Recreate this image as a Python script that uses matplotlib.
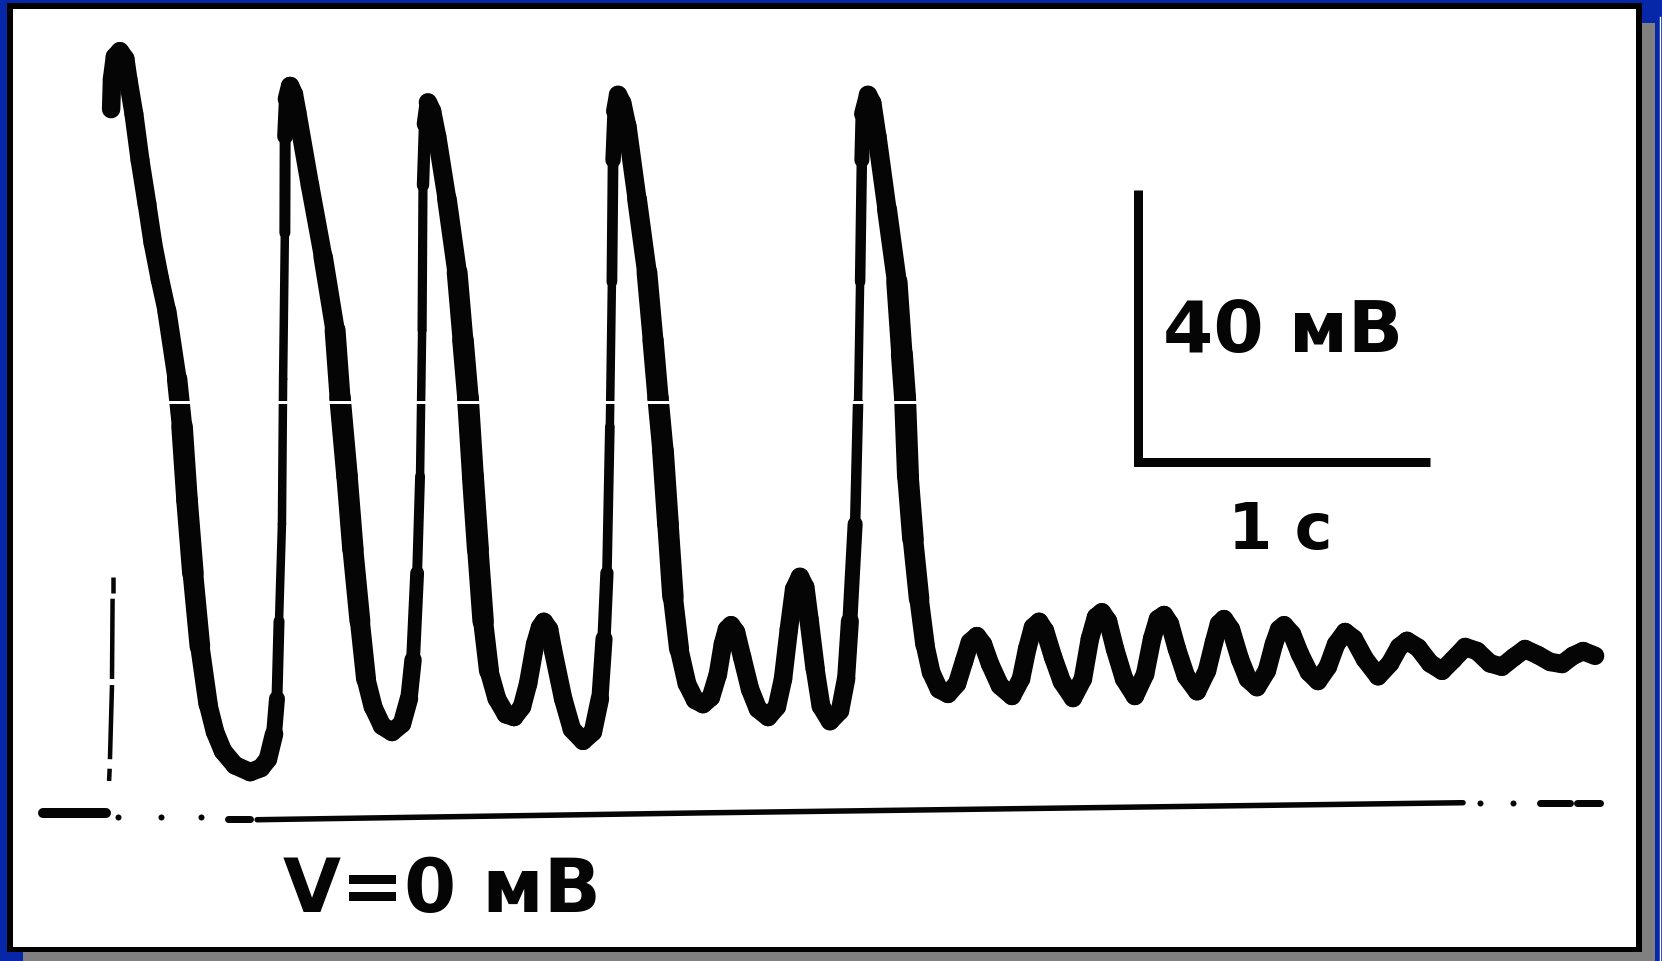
import numpy as np
import matplotlib.pyplot as plt
from matplotlib.collections import LineCollection
from matplotlib.patches import Rectangle

# recorded membrane potential: time in s (0 = stimulus mark), voltage in mV
time_s = [
    -0.003, 0.000, 0.010, 0.027, 0.045, 0.055, 0.075, 0.096, 0.120, 0.140,
    0.164, 0.188, 0.223, 0.240, 0.257, 0.277, 0.301, 0.329, 0.353, 0.380,
    0.421, 0.473, 0.510, 0.534, 0.555, 0.565, 0.572, 0.582, 0.586, 0.592,
    0.593, 0.599, 0.610, 0.623, 0.634, 0.678, 0.723, 0.764, 0.781, 0.805,
    0.825, 0.849, 0.870, 0.894, 0.925, 0.959, 0.993, 1.017, 1.031, 1.045,
    1.055, 1.062, 1.065, 1.072, 1.082, 1.096, 1.113, 1.147, 1.182, 1.202,
    1.219, 1.236, 1.253, 1.271, 1.291, 1.318, 1.349, 1.377, 1.404, 1.425,
    1.449, 1.466, 1.479, 1.497, 1.510, 1.545, 1.575, 1.613, 1.647, 1.671,
    1.685, 1.695, 1.705, 1.712, 1.716, 1.723, 1.733, 1.747, 1.764, 1.798,
    1.832, 1.853, 1.870, 1.887, 1.904, 1.921, 1.942, 1.969, 1.997, 2.024,
    2.051, 2.075, 2.092, 2.106, 2.120, 2.137, 2.158, 2.185, 2.212, 2.247,
    2.277, 2.298, 2.318, 2.336, 2.356, 2.373, 2.387, 2.408, 2.428, 2.459,
    2.493, 2.514, 2.527, 2.545, 2.555, 2.562, 2.568, 2.572, 2.589, 2.603,
    2.620, 2.654, 2.688, 2.705, 2.716, 2.726, 2.743, 2.764, 2.784, 2.805,
    2.832, 2.863, 2.894, 2.918, 2.938, 2.962, 2.983, 3.007, 3.041, 3.082,
    3.113, 3.134, 3.154, 3.175, 3.195, 3.223, 3.253, 3.291, 3.325, 3.349,
    3.370, 3.390, 3.411, 3.435, 3.466, 3.503, 3.538, 3.562, 3.582, 3.603,
    3.623, 3.647, 3.678, 3.716, 3.750, 3.774, 3.791, 3.808, 3.832, 3.863,
    3.890, 3.921, 3.955, 3.979, 3.997, 4.014, 4.041, 4.068, 4.099, 4.130,
    4.164, 4.192, 4.223, 4.253, 4.291, 4.336, 4.377, 4.408, 4.435, 4.473,
    4.514, 4.555, 4.592, 4.634, 4.675, 4.719, 4.760, 4.801, 4.839, 4.884,
    4.925, 4.966, 5.003, 5.038, 5.079,
]
volt_mv = [
    104.1, 108.5, 111.8, 112.6, 111.5, 108.5, 103.4, 96.6, 90.1, 84.4,
    79.1, 74.4, 64.4, 57.4, 46.6, 35.9, 25.1, 16.6, 12.5, 9.7,
    7.6, 6.6, 7.2, 8.5, 12.2, 17.4, 28.8, 43.1, 64.4, 85.9,
    100.1, 105.6, 107.5, 106.3, 103.7, 92.9, 82.4, 71.6, 61.6, 50.1,
    39.4, 28.8, 20.3, 16.2, 13.4, 12.5, 13.7, 17.4, 23.1, 35.9,
    50.1, 71.6, 92.9, 101.9, 105.1, 103.8, 100.1, 90.9, 80.1, 70.1,
    61.6, 50.1, 39.4, 28.8, 21.5, 17.4, 15.1, 14.7, 16.2, 19.6,
    25.4, 27.9, 28.7, 27.6, 24.6, 17.4, 12.9, 11.2, 12.5, 17.4,
    26.2, 35.9, 57.4, 78.7, 96.6, 103.8, 106.2, 105.0, 101.6, 90.9,
    80.1, 70.1, 61.6, 53.8, 43.1, 32.4, 24.7, 19.6, 17.2, 16.6,
    17.6, 21.0, 25.4, 27.6, 28.2, 27.2, 23.5, 18.8, 15.9, 14.7,
    16.2, 20.3, 27.6, 33.5, 35.3, 33.8, 29.1, 21.8, 16.3, 14.1,
    15.6, 20.3, 28.8, 43.1, 60.9, 78.7, 96.6, 103.4, 106.2, 105.0,
    100.1, 89.4, 78.7, 68.1, 61.6, 50.1, 40.9, 32.1, 25.4, 21.3,
    18.8, 18.1, 19.6, 22.9, 25.7, 26.6, 25.4, 22.5, 19.3, 17.8,
    20.3, 24.7, 27.9, 28.7, 27.4, 23.5, 19.9, 17.5, 20.3, 26.2,
    29.4, 30.1, 28.8, 24.7, 20.3, 17.8, 21.0, 26.2, 29.1, 29.7,
    28.4, 24.7, 20.7, 18.5, 21.5, 25.7, 28.4, 29.1, 27.6, 23.2,
    20.3, 19.1, 21.5, 25.4, 27.6, 28.2, 26.9, 24.0, 21.3, 20.0,
    22.1, 25.4, 27.2, 26.2, 23.2, 20.7, 22.6, 25.0, 25.9, 24.9,
    22.6, 21.5, 23.1, 25.0, 24.4, 22.6, 22.1, 23.5, 24.7, 23.8,
    22.8, 22.5, 23.7, 24.4, 23.7,
]

# zero level (V = 0 mV) record, drifting slightly
prestim_t = [-0.235, -0.020]
prestim_v = [0.6, 0.6]
zero_t = [0.497, 2.014, 4.627]
zero_v = [-0.4, 0.6, 2.1]
zero_dots_t = [0.021, 0.168, 0.305, 4.685, 4.798]
zero_dots_v = [0.0, 0.0, 0.0, 2.1, 2.1]
zero_dash_t = [(0.397, 0.473), (4.890, 4.993), (5.017, 5.096)]
zero_dash_v = [(-0.3, -0.3), (2.1, 2.1), (2.1, 2.1)]

# stimulus mark (dashed vertical)
stim_t = [(0.003, 0.003), (0.002, 0.000), (0.000, -0.007), (-0.008, -0.010)]
stim_v = [(35.3, 32.9), (32.1, 20.3), (19.4, 8.5), (7.1, 5.3)]

# calibration bar
bar_mv = 40
bar_s = 1
bar_label_v = "40 мВ"
bar_label_t = "1 с"
zero_label = "V=0 мВ"

# ---- layout: picture is 1662x962 px, pixel scale of the record ----
W, H = 1662, 962
PX_PER_S = 292.0
PX_PER_MV = 6.8
T0_PX, V0_PX = 112.0, 818.0
PT = 0.72  # points per pixel at dpi 100

fig = plt.figure(figsize=(W / 100, H / 100), dpi=100)
fig.patch.set_facecolor("#0628a8")

# slide style frame: gray shadow, black border, white paper
bg = fig.add_axes([0, 0, 1, 1], zorder=0)
bg.set_xlim(0, W)
bg.set_ylim(H, 0)
bg.axis("off")
bg.add_patch(Rectangle((23, 24), 1632, 940, color="#808080", lw=0))
bg.add_patch(Rectangle((7, 4), 1635, 949, color="black", lw=0))
bg.add_patch(Rectangle((13, 10), 1623, 938, color="white", lw=0))
bg.plot([1660, 1660], [18, 962], color="white", lw=1)

ax = fig.add_axes([0, 0, 1, 1], zorder=1)
ax.set_xlim(-T0_PX / PX_PER_S, (W - T0_PX) / PX_PER_S)
ax.set_ylim((V0_PX - H) / PX_PER_MV, V0_PX / PX_PER_MV)
ax.axis("off")

ink = "#050505"

# zero level line
ax.plot(prestim_t, prestim_v, color=ink, lw=10 * PT, solid_capstyle="round")
ax.plot(zero_t, zero_v, color=ink, lw=5.5 * PT, solid_capstyle="round")
for tt, vv in zip(zero_dash_t, zero_dash_v):
    ax.plot(tt, vv, color=ink, lw=7 * PT, solid_capstyle="round")
ax.plot(zero_dots_t, zero_dots_v, "o", color=ink, ms=6 * PT, mew=0)

# stimulus mark
for tt, vv in zip(stim_t, stim_v):
    ax.plot(tt, vv, color=ink, lw=4.5 * PT, solid_capstyle="butt")

# the trace: pen gets thin on the fast rising edges, heads stay fat
t = np.array(time_s)
v = np.array(volt_mv)
pts = np.column_stack([t, v])
segs = np.stack([pts[:-1], pts[1:]], axis=1)
rate = np.diff(v) / np.diff(t)  # mV/s
v_mid = 0.5 * (v[:-1] + v[1:])
thin = np.clip((rate - 700) / 500, 0, 1) * np.clip((101 - v_mid) / 5, 0, 1)
fat = np.clip((-rate - 250) / 300, 0, 1)
width_px = 18.5 + 3.5 * fat - 10.0 * thin
width_px = np.convolve(np.pad(width_px, 1, mode="edge"), [0.25, 0.5, 0.25], "valid")
lc = LineCollection(segs, linewidths=width_px * PT, colors=ink,
                    capstyle="round", joinstyle="round")
ax.add_collection(lc)

# white break left by the chart paper
ax.plot([0.13, 2.75], [61.0, 61.0], color="white", lw=3 * PT)

# calibration bar
bar_t0, bar_v0 = 3.514, 52.2
ax.plot([bar_t0, bar_t0, bar_t0 + bar_s], [bar_v0 + bar_mv, bar_v0, bar_v0],
        color=ink, lw=9 * PT, solid_joinstyle="miter", solid_capstyle="butt")

font = dict(family=["DejaVu Sans"], weight="bold", color=ink)
ax.text(3.60, 68.5, bar_label_v, fontsize=52, ha="left", va="baseline", **font)
ax.text(4.00, 39.6, bar_label_t, fontsize=46, ha="center", va="baseline", **font)
ax.text(0.586, -13.8, zero_label, fontsize=54, ha="left", va="baseline", **font)

fig.savefig("out.png", dpi=100)
